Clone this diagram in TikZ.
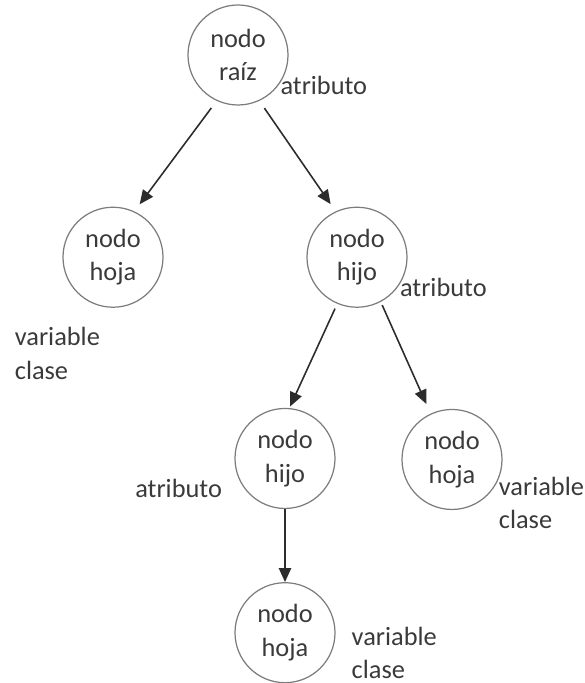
\documentclass[tikz,border=0pt]{standalone}
\usepackage{fontspec}
\setmainfont{Carlito}
\usepackage{tikz}
\usetikzlibrary{positioning,arrows.meta}
\definecolor{ink}{HTML}{3A3A3A}
\definecolor{circ}{HTML}{7C7C7C}
\definecolor{edge}{HTML}{2C2C2C}
\tikzset{
  nodo/.style={circle, draw=circ, line width=0.7pt, minimum size=2cm, inner sep=0pt, align=center, text=ink, font=\fontsize{15}{19}\selectfont},
  lab/.style={font=\fontsize{15}{19}\selectfont\color{ink}, align=left, inner sep=1pt},
  flow/.style={-{Triangle[length=8pt, width=7pt]}, draw=edge, line width=0.9pt},
}
\begin{document}
\begin{tikzpicture}[node distance=2cm]
    \useasboundingbox (-4.76,1.1) rectangle (6.94,-12.56);
    \node[nodo] (raiz) {nodo\\raíz};
    \node[nodo, below=2.02cm of raiz, xshift=-2.5cm] (hojaA) {nodo\\hoja};
    \node[nodo, below=2.02cm of raiz, xshift=2.38cm] (hijoA) {nodo\\hijo};
    \node[nodo, below=of hijoA, xshift=-1.44cm] (hijoB) {nodo\\hijo};
    \node[nodo, below=2.02cm of hijoA, xshift=1.9cm] (hojaB) {nodo\\hoja};
    \node[nodo, below=1.46cm of hijoB] (hojaC) {nodo\\hoja};
    % etiquetas
    \node[lab, right=0pt of raiz.-37] (atrA) {atributo};
    \node[lab, right=0pt of hijoA.-36] (atrB) {atributo};
    \node[lab, left=0.4cm of hijoB.-144] (atrC) {atributo};
    \node[lab, left=0.22cm of hojaA.south, yshift=-0.91cm] (clsA) {variable\\clase};
    \node[lab, right=0.18cm of hojaB.south east, yshift=-0.15cm] (clsB) {variable\\clase};
    \node[lab, right=0.28cm of hojaC.east, yshift=-0.4cm] (clsC) {variable\\clase};
    % aristas
    \draw[flow, shorten <=5pt, shorten >=5pt] (raiz.-115) -- (hojaA.65);
    \draw[flow, shorten <=5pt, shorten >=5pt] (raiz.-65) -- (hijoA.115);
    \draw[flow, shorten <=3pt, shorten >=1pt] (hijoA.-113) -- (hijoB.85);
    \draw[flow, shorten <=2pt, shorten >=6pt] (hijoA.-62) -- (hojaB.115);
    \draw[flow] (hijoB.south) -- (hojaC.north);
\end{tikzpicture}
\end{document}
